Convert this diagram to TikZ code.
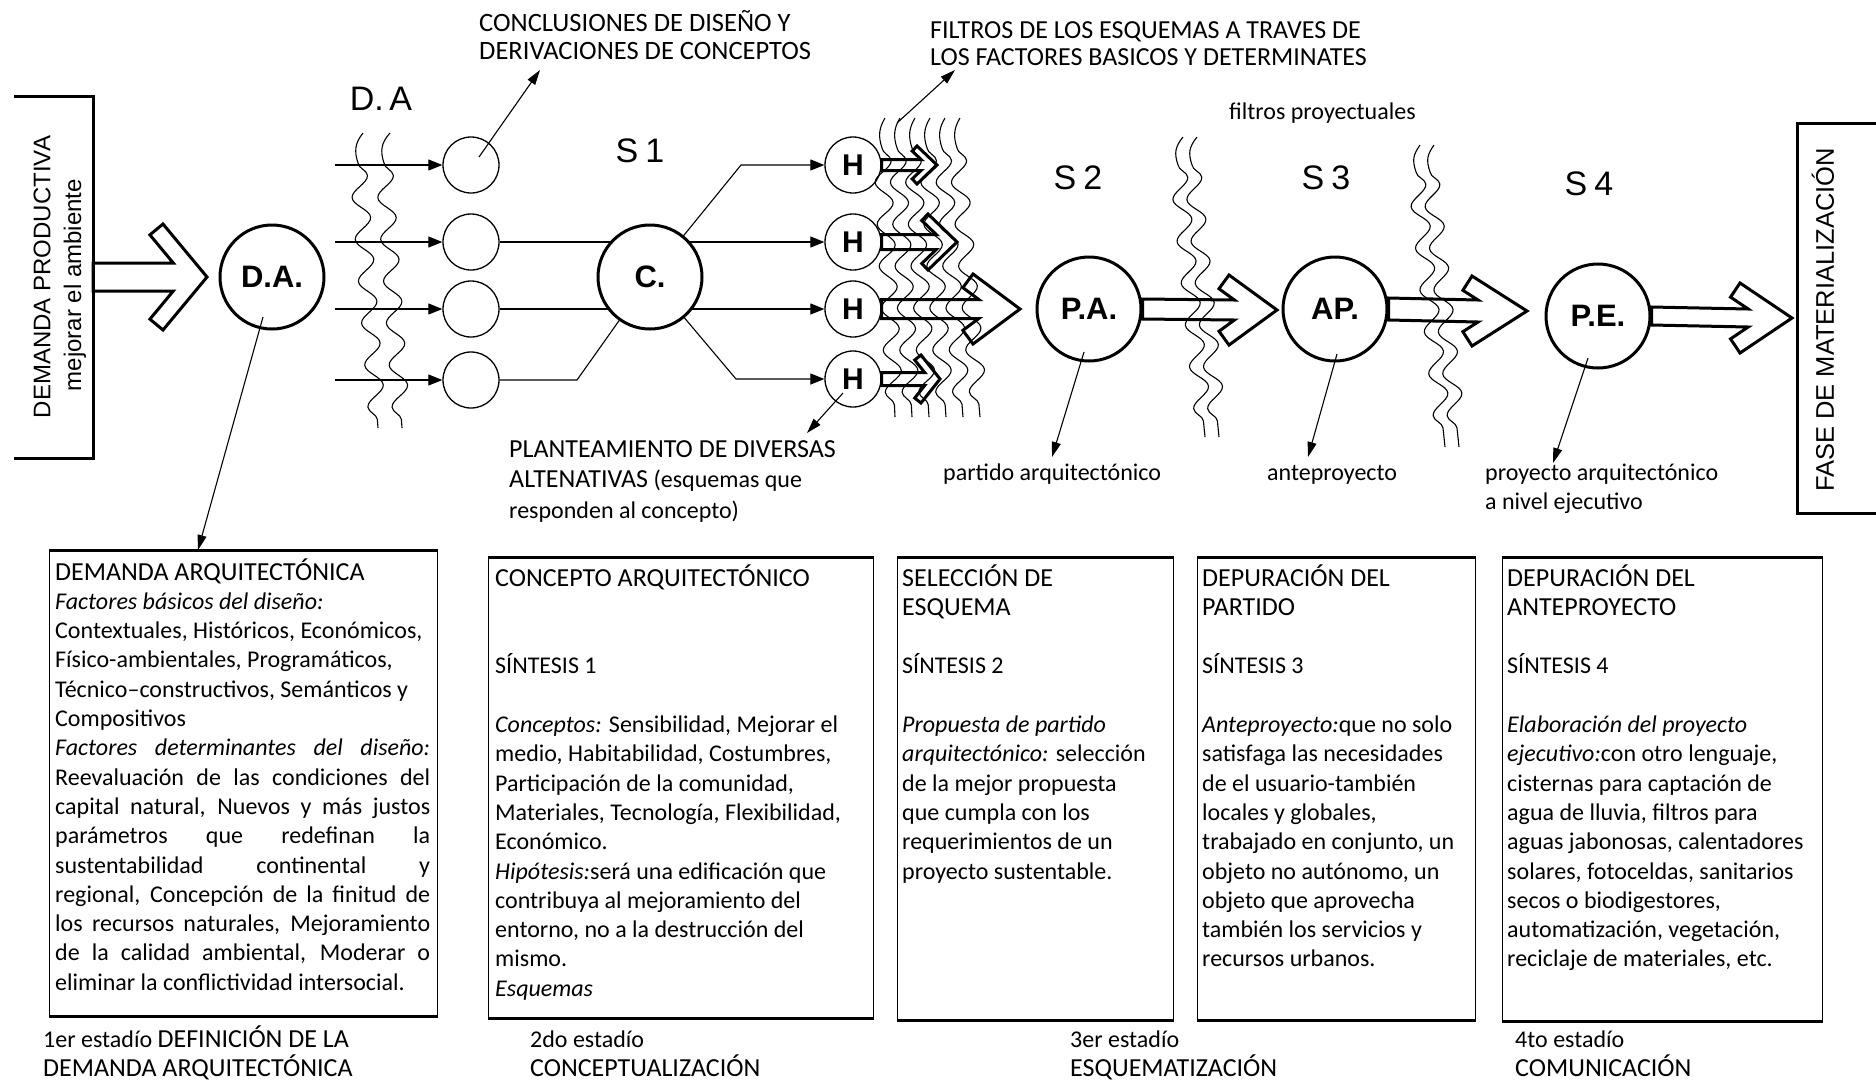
\documentclass[tikz,border=0pt]{standalone}
\usepackage{fontspec}
\setmainfont{Carlito}
\newfontfamily\labfont{Liberation Sans}
\usetikzlibrary{arrows.meta,calc,decorations.pathmorphing}
\pgfdeclarelayer{bg}
\pgfsetlayers{bg,main}

\tikzset{
  thinl/.style={line width=1.1pt},
  feed/.style={line width=1.1pt,-{Triangle[length=14pt,width=11pt]}},
  ptr/.style={line width=1.1pt,-{Triangle[length=15pt,width=9pt]}},
  minor/.style={circle,draw,line width=1.3pt,minimum size=56pt,inner sep=0pt,fill=white,
    font=\labfont\bfseries\fontsize{30}{30}\selectfont},
  major/.style={circle,draw,line width=3pt,minimum size=104pt,inner sep=0pt,fill=white,
    font=\labfont\bfseries\fontsize{31}{31}\selectfont},
  hollow/.style={line width=3pt,line join=miter},
  wave/.style={line width=1.1pt,decorate,decoration={snake,segment length=42pt,amplitude=8.5pt}},
  bracketline/.style={line width=3pt},
  boxframe/.style={draw,line width=1.4pt,anchor=north west,inner sep=0pt},
  boxedge/.style={line width=3pt},
  txt/.style={anchor=base west,inner sep=0pt,font=\fontsize{24}{28}\selectfont},
  hand/.style={inner sep=0pt,font=\labfont\fontsize{34}{34}\selectfont},
  sidelabel/.style={rotate=90,inner sep=0pt,font=\labfont\fontsize{24}{24}\selectfont},
}

% stacked lines, baseline on the first line
\newcommand\rows[1]{\begin{tabular}[t]{@{}l@{}}#1\end{tabular}}
% a justified line of the first column
\newcommand\jline[1]{\makebox[375pt][s]{#1}}
% capital headings set a little larger than the running text
\newcommand\caps[1]{{\fontsize{26}{29.3}\selectfont #1}}
% text block of a stage column
\newcommand\boxbody[2]{\begin{minipage}[t]{#1}\fontsize{24}{29.3}\selectfont\raggedright #2\end{minipage}}

% outlined block arrow with a chevron head
% #1 start, #2 tip, #3 shaft half width, #4 head half height, #5 head length, #6 head thickness
\newcommand\chevarrow[6]{%
  \pgfmathsetmacro\chvLen{veclen(#4,#5)}%
  \pgfmathsetmacro\chvBx{#5+#4*#6/\chvLen}%
  \pgfmathsetmacro\chvBy{#4-#5*#6/\chvLen}%
  \pgfmathsetmacro\chvJx{\chvBx-(\chvBy-#3)*#5/#4}%
  \draw[hollow] ($(#1)+(0,-#3)$) -- ($(#2)+(-\chvJx,-#3)$) -- ($(#2)+(-\chvBx,-\chvBy)$)
    -- ($(#2)+(-#5,-#4)$) -- (#2) -- ($(#2)+(-#5,#4)$) -- ($(#2)+(-\chvBx,\chvBy)$)
    -- ($(#2)+(-\chvJx,#3)$) -- ($(#1)+(0,#3)$) -- cycle;
}

% a filter line: hooked top, then a wavy run
% #1,#2 top; #3,#4 start of the wave; #5,#6 bottom
\newcommand\filt[6]{%
  \draw[thinl] (#1,#2) .. controls (#3-3,#2+10) and (#3-4,#4-12) .. (#3,#4);
  \draw[wave] (#3,#4) -- (#5,#6);
}

\begin{document}
\begin{tikzpicture}[x=1pt,y=-1pt]
\begin{pgfonlayer}{bg}
  \fill[white] (0,0) rectangle (1876,1080);
\end{pgfonlayer}
\useasboundingbox (0,0) rectangle (1876,1080);

% ---- side brackets ----
\draw[bracketline] (14,96) -- (93,96) -- (93,458) -- (14,458);
\node[sidelabel] (dprod) at (42,277) {DEMANDA PRODUCTIVA};
\node[sidelabel] (mejor) at (75,285) {mejorar el ambiente};
\coordinate (dpE) at (93,277);

\draw[bracketline] (1876,123) -- (1797,123) -- (1797,513) -- (1876,513);
\node[sidelabel,font=\labfont\fontsize{25.5}{25.5}\selectfont] (fase) at (1823,320) {FASE DE MATERIALIZACIÓN};

% ---- process nodes ----
\node[major] (DA) at (272,277) {D.A.};
\foreach \i/\y in {1/165,2/242,3/309,4/380} \node[minor] (c\i) at (471,\y) {};
\node[major] (C) at (650,277) {C.};
\foreach \i/\y in {1/165,2/242,3/309,4/379} \node[minor] (H\i) at (853,\y) {H};
\node[major] (PA) at (1089,309) {P.A.};
\node[major] (AP) at (1335,309) {AP.};
\node[major] (PE) at (1598,316) {P.E.};

% ---- handwritten marks ----
\node[hand] (lDA) at (381,99) {D.\,A};
\node[hand] (s1) at (640,151) {S\hspace{7pt}1};
\node[hand] (s2) at (1078,178) {S\hspace{7pt}2};
\node[hand] (s3) at (1326,178) {S\hspace{7pt}3};
\node[hand] (s4) at (1589,184) {S\hspace{7pt}4};

% ---- inputs to the conclusion circles ----
\foreach \i/\y in {1/165,2/242,3/309,4/380} {
  \coordinate (in\i) at (335,\y);
  \draw[feed] (in\i) -- (c\i);
}

% ---- links through the concept circle ----
\begin{pgfonlayer}{bg}
  \draw[thinl] (c2.east) -- (c2 -| C.center);
  \draw[thinl] (c3.east) -- (c3 -| C.center);
  \coordinate (k4) at (577,380);
  \draw[thinl] (c4.east) -- (k4) -- (C.center);
  \coordinate (k1) at (741,165);
  \coordinate (k5) at (736,379);
  \draw[feed] (C.center) -- (k1) -- (H1);
  \draw[feed] (C.center |- H2) -- (H2);
  \draw[feed] (C.center |- H3) -- (H3);
  \draw[feed] (C.center) -- (k5) -- (H4);
\end{pgfonlayer}

% ---- filter lines ----
\filt{363}{133}{358}{163}{378}{428}
\filt{390}{133}{384}{163}{402}{428}
\foreach \k in {0,...,5} {\filt{885+15*\k}{118}{882+15*\k}{148}{895+17*\k}{417}}
\filt{1183}{137}{1178}{165}{1205}{437}
\filt{1197}{137}{1192}{165}{1219}{437}
\filt{1420}{145}{1416}{172}{1445}{447}
\filt{1434}{145}{1430}{172}{1459}{447}

% ---- block arrows ----
\coordinate (tA) at (207,277);
\chevarrow{dpE}{tA}{14}{53}{44}{17}
\coordinate (tH1) at (937,165);
\chevarrow{H1.east}{tH1}{5.5}{19}{20}{7}
\coordinate (tH2) at (957,242);
\chevarrow{H2.east}{tH2}{7.5}{28}{29}{9}
\coordinate (tH3) at (1020,309);
\chevarrow{H3.east}{tH3}{9.5}{35}{47}{17}
\coordinate (tH4) at (940,379);
\chevarrow{H4.east}{tH4}{6.5}{24}{19}{8}
\coordinate (tB) at (1277,310);
\chevarrow{PA.east}{tB}{10}{35}{48}{17}
\coordinate (tC) at (1527,311);
\chevarrow{AP.east}{tC}{11}{35}{55}{17}
\coordinate (tD) at (1792,318);
\chevarrow{PE.east}{tD}{9}{35}{52}{17}

% ---- upper captions ----
\node[txt,font=\fontsize{26.5}{28}\selectfont] (concl) at (479,31)
  {\rows{CONCLUSIONES DE DISEÑO Y\\DERIVACIONES DE CONCEPTOS}};
\node[txt,font=\fontsize{26}{27}\selectfont] (filtros) at (930,38)
  {\rows{FILTROS DE LOS ESQUEMAS A TRAVES DE\\LOS FACTORES BASICOS Y DETERMINATES}};
\node[txt] (fproy) at (1229,119) {filtros proyectuales};
\node[txt,font=\fontsize{24}{30.5}\selectfont] (plan) at (509,457)
  {\rows{\caps{PLANTEAMIENTO DE DIVERSAS}\\\caps{ALTENATIVAS} (esquemas que\\responden al concepto)}};
\node[txt] (partido) at (943,480) {partido arquitectónico};
\node[txt] (antep) at (1267,480) {anteproyecto};
\node[txt,font=\fontsize{24}{29}\selectfont] (proyarq) at (1485,480)
  {\rows{proyecto arquitectónico\\a nivel ejecutivo}};

% ---- stage columns ----
\node[boxframe,minimum width=388pt,minimum height=465pt] (box1) at (49,550) {};
\node[boxframe,minimum width=385pt,minimum height=460pt] (box2) at (488,557) {};
\node[boxframe,minimum width=276pt,minimum height=462pt] (box3) at (897,557) {};
\node[boxframe,minimum width=278pt,minimum height=462pt] (box4) at (1197,557) {};
\node[boxframe,minimum width=320pt,minimum height=463pt] (box5) at (1502,557) {};
\foreach \b in {box1,box2,box3,box4,box5} {
  \draw[boxedge] (\b.north west) -- (\b.north east);
  \draw[boxedge] (\b.south west) -- (\b.south east);
}

\node[anchor=base west,inner sep=0pt] (b1) at (55,580) {\boxbody{400pt}{%
\caps{DEMANDA ARQUITECTÓNICA}\\
\textit{Factores básicos del diseño:}\\
Contextuales, Históricos, Económicos,\\
Físico-ambientales, Programáticos,\\
Técnico–constructivos, Semánticos y\\
Compositivos\\
\jline{\textit{Factores determinantes del diseño:}}\\
\jline{Reevaluación de las condiciones del}\\
\jline{capital natural, Nuevos y más justos}\\
\jline{parámetros que redefinan la}\\
\jline{sustentabilidad continental y}\\
\jline{regional, Concepción de la finitud de}\\
\jline{los recursos naturales, Mejoramiento}\\
\jline{de la calidad ambiental, Moderar o}\\
eliminar la conflictividad intersocial.}};

\node[anchor=base west,inner sep=0pt] (b2) at (495,586) {\boxbody{380pt}{%
\caps{CONCEPTO ARQUITECTÓNICO}\\[2\baselineskip]
SÍNTESIS 1\\[\baselineskip]
\textit{Conceptos:} Sensibilidad, Mejorar el\\
medio, Habitabilidad, Costumbres,\\
Participación de la comunidad,\\
Materiales, Tecnología, Flexibilidad,\\
Económico.\\
\textit{Hipótesis:}será una edificación que\\
contribuya al mejoramiento del\\
entorno, no a la destrucción del\\
mismo.\\
\textit{Esquemas}}};

\node[anchor=base west,inner sep=0pt] (b3) at (902,586) {\boxbody{275pt}{%
\caps{SELECCIÓN DE}\\
\caps{ESQUEMA}\\[\baselineskip]
SÍNTESIS 2\\[\baselineskip]
\textit{Propuesta de partido}\\
\textit{arquitectónico:} selección\\
de la mejor propuesta\\
que cumpla con los\\
requerimientos de un\\
proyecto sustentable.}};

\node[anchor=base west,inner sep=0pt] (b4) at (1202,586) {\boxbody{275pt}{%
\caps{DEPURACIÓN DEL}\\
\caps{PARTIDO}\\[\baselineskip]
SÍNTESIS 3\\[\baselineskip]
\textit{Anteproyecto:}que no solo\\
satisfaga las necesidades\\
de el usuario-también\\
locales y globales,\\
trabajado en conjunto, un\\
objeto no autónomo, un\\
objeto que aprovecha\\
también los servicios y\\
recursos urbanos.}};

\node[anchor=base west,inner sep=0pt] (b5) at (1507,586) {\boxbody{320pt}{%
\caps{DEPURACIÓN DEL}\\
\caps{ANTEPROYECTO}\\[\baselineskip]
SÍNTESIS 4\\[\baselineskip]
\textit{Elaboración del proyecto}\\
\textit{ejecutivo:}con otro lenguaje,\\
cisternas para captación de\\
agua de lluvia, filtros para\\
aguas jabonosas, calentadores\\
solares, fotoceldas, sanitarios\\
secos o biodigestores,\\
automatización, vegetación,\\
reciclaje de materiales, etc.}};

% ---- stage captions ----
\node[txt,font=\fontsize{24}{26}\selectfont] (e1) at (43,1047)
  {\rows{1er estadío \caps{DEFINICIÓN DE LA}\\\caps{DEMANDA ARQUITECTÓNICA}}};
\node[txt,font=\fontsize{24}{26}\selectfont] (e2) at (530,1047)
  {\rows{2do estadío\\\caps{CONCEPTUALIZACIÓN}}};
\node[txt,font=\fontsize{24}{26}\selectfont] (e3) at (1070,1047)
  {\rows{3er estadío\\\caps{ESQUEMATIZACIÓN}}};
\node[txt,font=\fontsize{24}{26}\selectfont] (e4) at (1515,1047)
  {\rows{4to estadío\\\caps{COMUNICACIÓN}}};

% ---- pointers ----
\coordinate (pDA) at ($(box1.north west)+(149,0)$);
\draw[ptr] ($(DA.center)+(-9,40)$) -- (pDA);
\coordinate (pConcl) at (540,70);
\draw[ptr] ($(c1.center)+(8,-8)$) -- (pConcl);
\coordinate (fTop) at (897,123);
\coordinate (pFil) at (955,70);
\draw[ptr] (fTop) -- (pFil);
\coordinate (pPlan) at (807,433);
\draw[ptr] ($(H4.center)+(-10,14)$) -- (pPlan);
\coordinate (pPart) at (1052,457);
\draw[ptr] ($(PA.center)+(-5,43)$) -- (pPart);
\coordinate (pAnte) at (1308,457);
\draw[ptr] ($(AP.center)+(2,45)$) -- (pAnte);
\coordinate (pProy) at (1553,463);
\draw[ptr] ($(PE.center)+(-10,42)$) -- (pProy);
\end{tikzpicture}
\end{document}
